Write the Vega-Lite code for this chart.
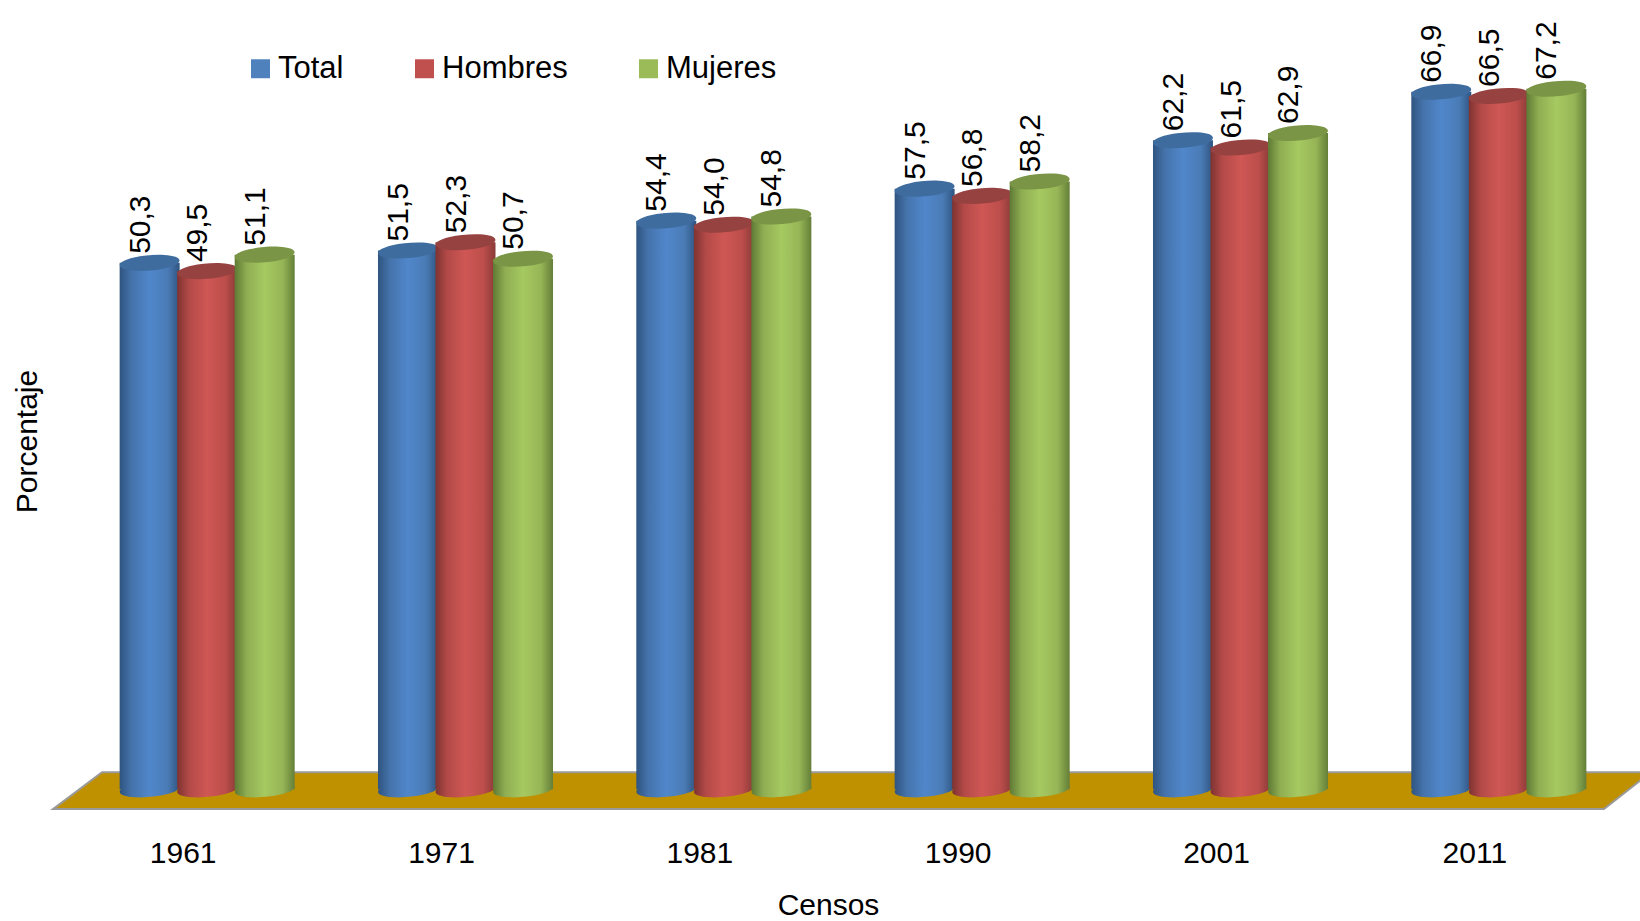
{"$schema":"https://vega.github.io/schema/vega-lite/v6.json","width":1550,"height":783,"autosize":{"type":"none"},"padding":{"left":78,"top":29,"right":12,"bottom":109},"background":"white",
"config":{"font":"Liberation Sans","view":{"stroke":null}},
"data":{"values":[
{"censo":"1961","serie":"Total","valor":50.3,"etiqueta":"50,3"},{"censo":"1961","serie":"Hombres","valor":49.5,"etiqueta":"49,5"},{"censo":"1961","serie":"Mujeres","valor":51.1,"etiqueta":"51,1"},
{"censo":"1971","serie":"Total","valor":51.5,"etiqueta":"51,5"},{"censo":"1971","serie":"Hombres","valor":52.3,"etiqueta":"52,3"},{"censo":"1971","serie":"Mujeres","valor":50.7,"etiqueta":"50,7"},
{"censo":"1981","serie":"Total","valor":54.4,"etiqueta":"54,4"},{"censo":"1981","serie":"Hombres","valor":54.0,"etiqueta":"54,0"},{"censo":"1981","serie":"Mujeres","valor":54.8,"etiqueta":"54,8"},
{"censo":"1990","serie":"Total","valor":57.5,"etiqueta":"57,5"},{"censo":"1990","serie":"Hombres","valor":56.8,"etiqueta":"56,8"},{"censo":"1990","serie":"Mujeres","valor":58.2,"etiqueta":"58,2"},
{"censo":"2001","serie":"Total","valor":62.2,"etiqueta":"62,2"},{"censo":"2001","serie":"Hombres","valor":61.5,"etiqueta":"61,5"},{"censo":"2001","serie":"Mujeres","valor":62.9,"etiqueta":"62,9"},
{"censo":"2011","serie":"Total","valor":66.9,"etiqueta":"66,9"},{"censo":"2011","serie":"Hombres","valor":66.5,"etiqueta":"66,5"},{"censo":"2011","serie":"Mujeres","valor":67.2,"etiqueta":"67,2"}
]},
"resolve":{"scale":{"x":"independent"}},
"layer":[
{"data":{"values":[{"fx":-1.61,"y0":-2.72,"y1":-2.72},{"fx":1.55,"y0":-2.72,"y1":0.87},{"fx":98.45,"y0":-2.72,"y1":0.87},{"fx":101.48,"y0":0.87,"y1":0.87}]},
"mark":{"type":"area","fill":"#BF9000","stroke":"#9A9A9A","strokeWidth":2,"clip":false},
"encoding":{"x":{"field":"fx","type":"quantitative","scale":{"domain":[0,100],"nice":false,"zero":false},"axis":null},
"y":{"field":"y1","type":"quantitative","scale":{"domain":[-3,73],"nice":false,"zero":false},"axis":{"title":"Porcentaje","titleFontSize":30,"titleFontWeight":"normal","titleColor":"#000","titleX":-36,"titleY":412,"labels":false,"ticks":false,"domain":false,"grid":false}},
"y2":{"field":"y0"}}},
{"encoding":{"x":{"field":"censo","type":"nominal","scale":{"paddingInner":0.332,"paddingOuter":0.166},"axis":{"title":"Censos","labelAngle":0,"labelFontSize":30,"labelColor":"#000","labelPadding":26,"labelOffset":-24,"labelBaseline":"top","ticks":false,"domain":false,"grid":false,"titleFontSize":30,"titleFontWeight":"normal","titleColor":"#000","titleX":750,"titleY":93,"titleBaseline":"middle"}},
"xOffset":{"field":"serie","type":"nominal","scale":{"domain":["Total","Hombres","Mujeres"],"paddingInner":0,"paddingOuter":0}},
"y":{"field":"valor","type":"quantitative"}},
"layer":[
{"mark":{"type":"point","filled":true,"size":0,"opacity":1},"encoding":{"color":{"field":"serie","type":"nominal","scale":{"domain":["Total","Hombres","Mujeres"],"range":["#4F81BD","#C0504D","#9BBB59"]},"legend":{"title":null,"orient":"none","direction":"horizontal","legendX":167,"legendY":24,"symbolType":"square","symbolSize":360,"symbolStrokeWidth":0,"labelFontSize":31,"labelColor":"#000","labelOffset":2,"columnPadding":65}}}},
{"transform":[{"filter":"datum.serie==='Total'"}],"mark":{"type":"point","filled":true,"opacity":1,"strokeWidth":0,"size":3600,"shape":"M-0.996,0.087A1,0.25,-5,1,1,0.996,-0.087A1,0.25,-5,1,1,-0.996,0.087Z","fill":{"gradient":"linear","x1":0,"x2":1,"y1":0,"y2":0,"stops":[{"offset":0,"color":"#2F5480"},{"offset":0.2,"color":"#4573AB"},{"offset":0.5,"color":"#5087CB"},{"offset":0.8,"color":"#4A7BB5"},{"offset":1,"color":"#2F5480"}]}},"encoding":{"y":{"datum":-0.8}}},
{"transform":[{"filter":"datum.serie==='Total'"}],"mark":{"type":"bar","size":60,"fill":{"gradient":"linear","x1":0,"x2":1,"y1":0,"y2":0,"stops":[{"offset":0,"color":"#2F5480"},{"offset":0.2,"color":"#4573AB"},{"offset":0.5,"color":"#5087CB"},{"offset":0.8,"color":"#4A7BB5"},{"offset":1,"color":"#2F5480"}]}},"encoding":{"y2":{"datum":-0.8}}},
{"transform":[{"filter":"datum.serie==='Total'"}],"mark":{"type":"point","filled":true,"opacity":1,"strokeWidth":0,"size":3600,"shape":"M-0.996,0.087A1,0.25,-5,1,1,0.996,-0.087A1,0.25,-5,1,1,-0.996,0.087Z","fill":"#3F6C9F"}},
{"transform":[{"filter":"datum.serie==='Hombres'"}],"mark":{"type":"point","filled":true,"opacity":1,"strokeWidth":0,"size":3600,"shape":"M-0.996,0.087A1,0.25,-5,1,1,0.996,-0.087A1,0.25,-5,1,1,-0.996,0.087Z","fill":{"gradient":"linear","x1":0,"x2":1,"y1":0,"y2":0,"stops":[{"offset":0,"color":"#7E3331"},{"offset":0.2,"color":"#B34A48"},{"offset":0.5,"color":"#CF5754"},{"offset":0.8,"color":"#BC4E4B"},{"offset":1,"color":"#8A3A38"}]}},"encoding":{"y":{"datum":-0.8}}},
{"transform":[{"filter":"datum.serie==='Hombres'"}],"mark":{"type":"bar","size":60,"fill":{"gradient":"linear","x1":0,"x2":1,"y1":0,"y2":0,"stops":[{"offset":0,"color":"#7E3331"},{"offset":0.2,"color":"#B34A48"},{"offset":0.5,"color":"#CF5754"},{"offset":0.8,"color":"#BC4E4B"},{"offset":1,"color":"#8A3A38"}]}},"encoding":{"y2":{"datum":-0.8}}},
{"transform":[{"filter":"datum.serie==='Hombres'"}],"mark":{"type":"point","filled":true,"opacity":1,"strokeWidth":0,"size":3600,"shape":"M-0.996,0.087A1,0.25,-5,1,1,0.996,-0.087A1,0.25,-5,1,1,-0.996,0.087Z","fill":"#964240"}},
{"transform":[{"filter":"datum.serie==='Mujeres'"}],"mark":{"type":"point","filled":true,"opacity":1,"strokeWidth":0,"size":3600,"shape":"M-0.996,0.087A1,0.25,-5,1,1,0.996,-0.087A1,0.25,-5,1,1,-0.996,0.087Z","fill":{"gradient":"linear","x1":0,"x2":1,"y1":0,"y2":0,"stops":[{"offset":0,"color":"#5E7A35"},{"offset":0.2,"color":"#8FAD52"},{"offset":0.5,"color":"#A6C961"},{"offset":0.8,"color":"#96B556"},{"offset":1,"color":"#647F38"}]}},"encoding":{"y":{"datum":-0.8}}},
{"transform":[{"filter":"datum.serie==='Mujeres'"}],"mark":{"type":"bar","size":60,"fill":{"gradient":"linear","x1":0,"x2":1,"y1":0,"y2":0,"stops":[{"offset":0,"color":"#5E7A35"},{"offset":0.2,"color":"#8FAD52"},{"offset":0.5,"color":"#A6C961"},{"offset":0.8,"color":"#96B556"},{"offset":1,"color":"#647F38"}]}},"encoding":{"y2":{"datum":-0.8}}},
{"transform":[{"filter":"datum.serie==='Mujeres'"}],"mark":{"type":"point","filled":true,"opacity":1,"strokeWidth":0,"size":3600,"shape":"M-0.996,0.087A1,0.25,-5,1,1,0.996,-0.087A1,0.25,-5,1,1,-0.996,0.087Z","fill":"#7A9545"}},
{"mark":{"type":"text","angle":-90,"align":"left","baseline":"middle","fontSize":30,"color":"#000","dx":9,"dy":-9},"encoding":{"text":{"field":"etiqueta","type":"nominal"}}}
]}
]}
